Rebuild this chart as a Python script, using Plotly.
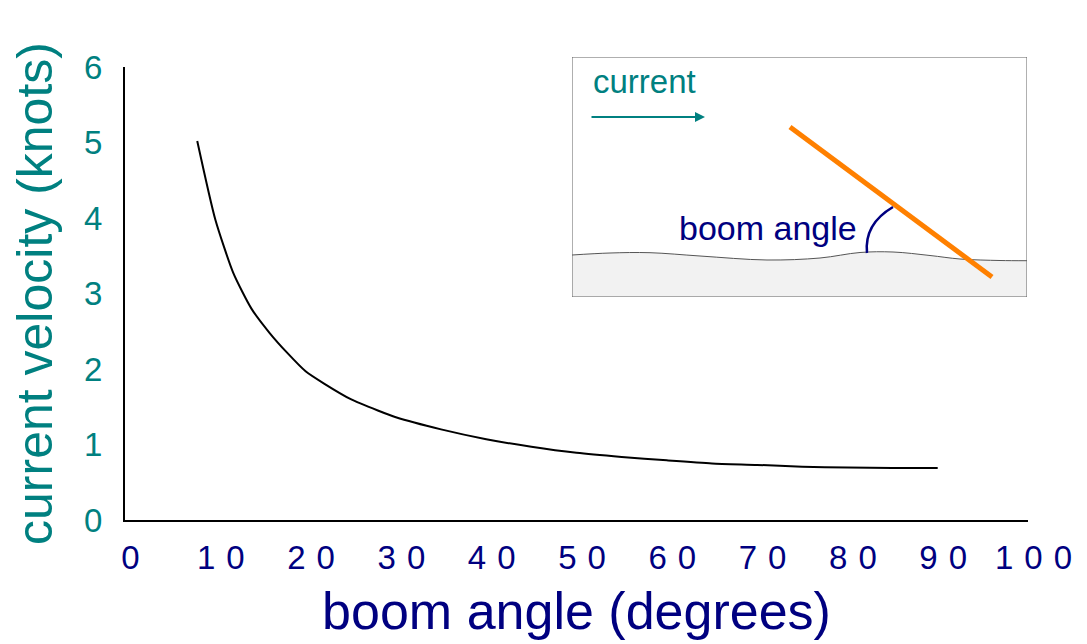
import plotly.graph_objects as go

# ---- data ----
angle_deg = [8, 10, 12, 14, 16, 18, 20, 22, 25, 28, 30, 35, 40, 45, 50, 55, 60, 65, 70, 75, 80, 85, 90]
velocity_kn = [5.02, 3.98, 3.27, 2.80, 2.48, 2.21, 1.97, 1.81, 1.60, 1.45, 1.36, 1.20, 1.07, 0.97, 0.89,
               0.835, 0.79, 0.75, 0.73, 0.705, 0.695, 0.69, 0.69]

x_tick_vals = [0, 10, 20, 30, 40, 50, 60, 70, 80, 90, 100]
x_tick_labels = ["0", "10", "20", "30", "40", "50", "60", "70", "80", "90", "100"]
y_tick_vals = [0, 1, 2, 3, 4, 5, 6]
y_tick_labels = ["0", "1", "2", "3", "4", "5", "6"]

x_title = "boom angle (degrees)"
y_title = "current velocity (knots)"

# ---- inset illustration geometry (inset's own pixel-like units) ----
inset_x_range = [572, 1027]
inset_y_range = [297, 57]
wave_x = [572, 610, 650, 700, 767, 820, 860, 893, 930, 960, 1000, 1027]
wave_y = [255, 253, 252.7, 256, 260, 258, 252.5, 252, 255.5, 259, 260.5, 260.7]
boom_x = [790, 992]
boom_y = [127, 277]

TEAL = "#008080"
NAVY = "#000080"
ORANGE = "#ff8000"
FONT = "Liberation Sans, Arial, sans-serif"

fig = go.Figure()

fig.add_trace(go.Scatter(
    x=angle_deg, y=velocity_kn, mode="lines",
    line=dict(color="black", width=2, shape="spline", smoothing=0.6),
    showlegend=False, hoverinfo="skip"))

# inset: ground fill
fig.add_trace(go.Scatter(
    x=wave_x + [inset_x_range[1], inset_x_range[0]],
    y=wave_y + [inset_y_range[0], inset_y_range[0]],
    mode="lines", fill="toself", fillcolor="#f2f2f2",
    line=dict(width=0, color="#f2f2f2"), xaxis="x2", yaxis="y2",
    showlegend=False, hoverinfo="skip"))
# inset: wavy surface line
fig.add_trace(go.Scatter(
    x=wave_x, y=wave_y, mode="lines", line=dict(color="#555555", width=1, shape="spline"),
    xaxis="x2", yaxis="y2", showlegend=False, hoverinfo="skip"))
# inset: boom
fig.add_trace(go.Scatter(
    x=boom_x, y=boom_y, mode="lines", line=dict(color=ORANGE, width=5),
    xaxis="x2", yaxis="y2", showlegend=False, hoverinfo="skip"))

plot_left, plot_right, plot_top, plot_bottom = 125, 1028, 67, 520
W, H = 1087, 644
m_t, m_b = 50, H - plot_bottom
ph = H - m_t - m_b
pw = plot_right - plot_left

fig.update_layout(
    width=W, height=H,
    margin=dict(l=plot_left, r=W - plot_right, t=m_t, b=m_b, pad=0),
    paper_bgcolor="white", plot_bgcolor="white",
    font=dict(family=FONT),
    showlegend=False,
    xaxis=dict(
        range=[0, 100], domain=[0, 1], anchor="y",
        showline=True, linecolor="black", linewidth=2,
        showgrid=False, zeroline=False, ticks="",
        tickmode="array", tickvals=x_tick_vals, ticktext=x_tick_labels,
        tickfont=dict(family=FONT, size=33, color=NAVY),
        ticklabelshift=11, ticklabelstandoff=7,
        title=dict(text=x_title, font=dict(family=FONT, size=52, color=NAVY), standoff=18),
    ),
    yaxis=dict(
        range=[0, 6], domain=[0, (plot_bottom - plot_top) / ph], anchor="x",
        showline=True, linecolor="black", linewidth=2,
        showgrid=False, zeroline=False, ticks="",
        tickmode="array", tickvals=y_tick_vals, ticktext=y_tick_labels,
        tickfont=dict(family=FONT, size=33, color=TEAL),
        ticklabelstandoff=14,
        title=dict(text=y_title, font=dict(family=FONT, size=50, color=TEAL), standoff=16),
    ),
    xaxis2=dict(
        range=inset_x_range, anchor="y2", visible=False,
        domain=[(inset_x_range[0] - plot_left) / pw, (inset_x_range[1] - plot_left) / pw],
    ),
    yaxis2=dict(
        range=inset_y_range, anchor="x2", visible=False,
        domain=[(plot_bottom - inset_y_range[0]) / ph, (plot_bottom - inset_y_range[1]) / ph],
    ),
)

# inset frame
fig.add_shape(type="rect", xref="x2", yref="y2",
              x0=inset_x_range[0], x1=inset_x_range[1], y0=inset_y_range[0], y1=inset_y_range[1],
              line=dict(color="#606060", width=1), layer="above")
# angle arc
fig.add_shape(type="path", xref="x2", yref="y2",
              path="M 867 253 Q 864 224 893 207",
              line=dict(color=NAVY, width=2.5), layer="above")

fig.add_annotation(x=644, y=82, xref="x2", yref="y2", text="current", showarrow=False,
                   font=dict(family=FONT, size=33, color=TEAL))
fig.add_annotation(x=705, y=117, ax=590, ay=117, xref="x2", yref="y2", axref="x2", ayref="y2",
                   text="", showarrow=True, arrowhead=2, arrowsize=1, arrowwidth=2,
                   arrowcolor=TEAL)
fig.add_annotation(x=768, y=228, xref="x2", yref="y2", text="boom angle", showarrow=False,
                   font=dict(family=FONT, size=34, color=NAVY))

post = ("var s=document.createElement('style');"
        "s.textContent='html,body{margin:0;padding:0;overflow:hidden;} .xtick text{letter-spacing:11px;}';"
        "document.head.appendChild(s);")

fig.write_html("out.html", post_script=post, config={"displayModeBar": False})
